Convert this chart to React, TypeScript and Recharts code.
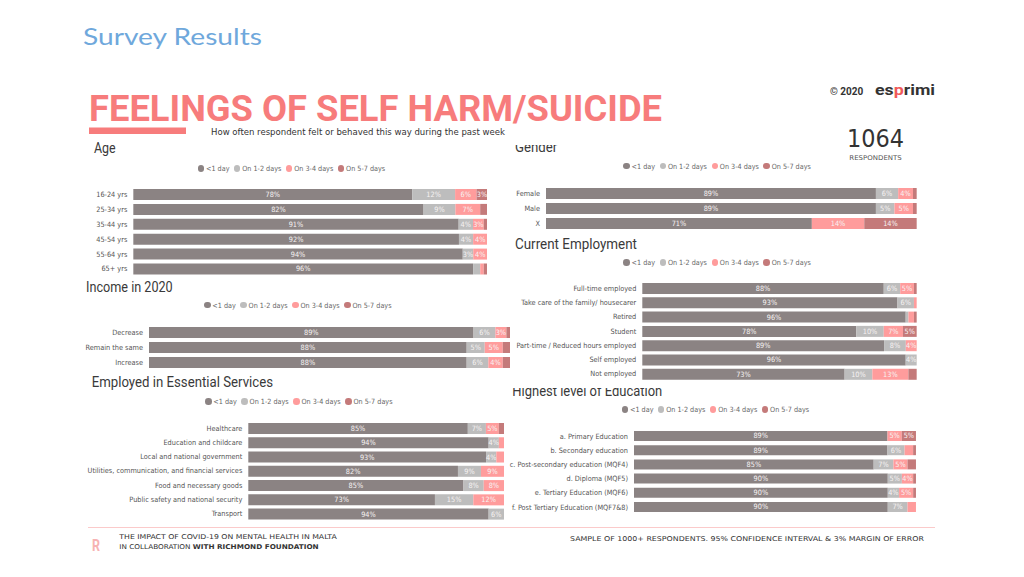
import { BarChart, Bar, XAxis, YAxis, LabelList } from "recharts";

// series shared by every panel
const SERIES = ["<1 day", "On 1-2 days", "On 3-4 days", "On 5-7 days"];
const KEYS = ["d1", "d2", "d3", "d4"];
const COLORS = ["#8b8383", "#bdbdbd", "#ff9c9c", "#c47a7a"];

const COND = '"DejaVu Sans Condensed", "Liberation Sans Narrow", "DejaVu Sans", sans-serif';
const HEAD = 'Roboto, "Open Sans", sans-serif';

// Age
const ageCats = ["16-24 yrs", "25-34 yrs", "35-44 yrs", "45-54 yrs", "55-64 yrs", "65+ yrs"];
const ageLess1 = [78, 82, 91, 92, 94, 96];
const age12 = [12, 9, 4, 4, 3, 2];
const age34 = [6, 7, 3, 4, 4, 1];
const age57 = [3, 2, 1, 0, 0, 1];

// Income in 2020
const incomeCats = ["Decrease", "Remain the same", "Increase"];
const incomeLess1 = [89, 88, 88];
const income12 = [6, 5, 6];
const income34 = [3, 5, 4];
const income57 = [1, 2, 2];

// Employed in Essential Services
const essCats = [
  "Healthcare",
  "Education and childcare",
  "Local and national government",
  "Utilities, communication, and financial services",
  "Food and necessary goods",
  "Public safety and national security",
  "Transport",
];
const essLess1 = [85, 94, 93, 82, 85, 73, 94];
const ess12 = [7, 4, 4, 9, 8, 15, 6];
const ess34 = [5, 2, 3, 9, 8, 12, 0];
const ess57 = [2, 0, 0, 0, 0, 0, 0];

// Gender
const genderCats = ["Female", "Male", "X"];
const genderLess1 = [89, 89, 71];
const gender12 = [6, 5, 0];
const gender34 = [4, 5, 14];
const gender57 = [1, 1, 14];

// Current Employment
const empCats = [
  "Full-time employed",
  "Take care of the family/ housecarer",
  "Retired",
  "Student",
  "Part-time / Reduced hours employed",
  "Self employed",
  "Not employed",
];
const empLess1 = [88, 93, 96, 78, 89, 96, 73];
const emp12 = [6, 6, 1, 10, 8, 4, 10];
const emp34 = [5, 1, 2, 7, 4, 0, 13];
const emp57 = [1, 0, 1, 5, 0, 0, 3];

// Highest level of Education
const eduCats = [
  "a. Primary Education",
  "b. Secondary education",
  "c. Post-secondary education (MQF4)",
  "d. Diploma (MQF5)",
  "e. Tertiary Education (MQF6)",
  "f. Post Tertiary Education (MQF7&8)",
];
const eduLess1 = [89, 89, 85, 90, 90, 90];
const edu12 = [0, 6, 7, 5, 4, 7];
const edu34 = [5, 3, 5, 4, 5, 3];
const edu57 = [5, 1, 3, 1, 1, 0];

const rows = (cats: string[], a: number[], b: number[], c: number[], d: number[]) =>
  cats.map((cat, i) => ({ cat, d1: a[i], d2: b[i], d3: c[i], d4: d[i] }));

const renderValue = (p: any) => {
  const x = Number(p.x), y = Number(p.y), w = Number(p.width), h = Number(p.height);
  const v = Number(p.value);
  if (!v || w < 10) return null;
  return (
    <text
      x={x + w / 2}
      y={y + h / 2}
      textAnchor="middle"
      dominantBaseline="central"
      fill="#f7f3f3"
      fontSize={7.3}
      fontFamily={COND}
    >
      {v}%
    </text>
  );
};

// plain tick so long category names stay on one line
const CatTick = (p: any) => (
  <text x={p.x} y={p.y} textAnchor="end" dominantBaseline="central" fontSize={7.3} fill="#555" fontFamily={COND}>
    {p.payload?.value}
  </text>
);

function Panel({ data, left, top, width, height, axisWidth, barSize = 11 }: any) {
  return (
    <div style={{ position: "absolute", left, top, width, height }}>
      <BarChart
        width={width}
        height={height}
        data={data}
        layout="vertical"
        stackOffset="expand"
        margin={{ top: 0, right: 0, bottom: 0, left: 0 }}
      >
        <XAxis type="number" hide domain={[0, 1]} />
        <YAxis
          type="category"
          dataKey="cat"
          width={axisWidth}
          axisLine={false}
          tickLine={false}
          tickSize={0}
          tickMargin={6}
          interval={0}
          tick={<CatTick />}
        />
        {KEYS.map((k, i) => (
          <Bar key={k} dataKey={k} name={SERIES[i]} stackId="s" fill={COLORS[i]} barSize={barSize} isAnimationActive={false}>
            <LabelList dataKey={k} content={renderValue} />
          </Bar>
        ))}
      </BarChart>
    </div>
  );
}

function Legend({ left, cy }: { left: number; cy: number }) {
  return (
    <div style={{ position: "absolute", left, top: cy - 6, height: 12, display: "flex", alignItems: "center", whiteSpace: "nowrap" }}>
      {SERIES.map((s, i) => (
        <div key={s} style={{ display: "flex", alignItems: "center", marginRight: 4.5 }}>
          <span style={{ width: 6.5, height: 6.5, borderRadius: "50%", background: COLORS[i], marginRight: 1.8 }} />
          <span style={{ fontSize: 7.2, color: "#666", fontFamily: COND }}>{s}</span>
        </div>
      ))}
    </div>
  );
}

const Title = ({ x, y, w, children }: any) => (
  <text x={x} y={y} fontSize={14} fill="#3a3a3a" fontFamily={HEAD} textLength={w} lengthAdjust="spacingAndGlyphs">
    {children}
  </text>
);

export default function App() {
  return (
    <div style={{ position: "absolute", left: 0, top: 0, width: 1024, height: 577, background: "#fff", overflow: "hidden" }}>
      <svg width={1024} height={577} style={{ position: "absolute", left: 0, top: 0 }}>
        <defs>
          <clipPath id="cg">
            <rect x={505} y={145} width={120} height={20} />
          </clipPath>
          <clipPath id="ce">
            <rect x={505} y={388} width={200} height={20} />
          </clipPath>
        </defs>
        <text x={83} y={45} fontSize={23} fill="#6fa8dc" fontFamily='Lato, "Open Sans", sans-serif' textLength={179} lengthAdjust="spacingAndGlyphs">
          Survey Results
        </text>
        <text x={89} y={121} fontSize={36} fontWeight={700} fill="#f77c7c" fontFamily={HEAD} textLength={573} lengthAdjust="spacingAndGlyphs">
          FEELINGS OF SELF HARM/SUICIDE
        </text>
        <rect x={89} y={127.5} width={97} height={6.5} fill="#f77c7c" />
        <text x={211} y={135} fontSize={8} fill="#333" fontFamily={COND} textLength={294} lengthAdjust="spacingAndGlyphs">
          How often respondent felt or behaved this way during the past week
        </text>

        <text x={830} y={95.3} fontSize={10} fontWeight={700} fill="#333" fontFamily={HEAD}>
          © 2020
        </text>
        <text x={875} y={95.3} fontSize={14} fontWeight={700} fill="#333" fontFamily={HEAD} textLength={60} lengthAdjust="spacingAndGlyphs">
          es<tspan fill="#f05a5a">p</tspan>rimi
        </text>
        <text x={847} y={147.3} fontSize={25} fill="#333" fontFamily={COND} textLength={57} lengthAdjust="spacingAndGlyphs">
          1064
        </text>
        <text x={849.3} y={160} fontSize={6.5} fill="#555" fontFamily={COND} textLength={52.5} lengthAdjust="spacingAndGlyphs">
          RESPONDENTS
        </text>

        <Title x={94} y={153.3} w={21.7}>Age</Title>
        <Title x={86} y={291.7} w={86.7}>Income in 2020</Title>
        <Title x={91.7} y={387.3} w={181.3}>Employed in Essential Services</Title>
        <g clipPath="url(#cg)">
          <Title x={515} y={152} w={42.3}>Gender</Title>
        </g>
        <Title x={515} y={249.3} w={122}>Current Employment</Title>
        <g clipPath="url(#ce)">
          <Title x={512.3} y={395.7} w={150}>Highest level of Education</Title>
        </g>

        <line x1={88} y1={527.5} x2={935} y2={527.5} stroke="#fbcaca" strokeWidth={1} />
        <text x={92} y={551} fontSize={16} fontWeight={700} fill="#f7b3b3" fontFamily={HEAD} textLength={8} lengthAdjust="spacingAndGlyphs">
          R
        </text>
        <text x={119.3} y={539.3} fontSize={6.6} fill="#333" fontFamily={COND} textLength={217.4} lengthAdjust="spacingAndGlyphs">
          THE IMPACT OF COVID-19 ON MENTAL HEALTH IN MALTA
        </text>
        <text x={119.3} y={548.7} fontSize={6.6} fill="#333" fontFamily={COND} textLength={199.4} lengthAdjust="spacingAndGlyphs">
          IN COLLABORATION <tspan fontWeight={700}>WITH RICHMOND FOUNDATION</tspan>
        </text>
        <text x={570} y={541} fontSize={6.6} fill="#333" fontFamily={COND} textLength={354} lengthAdjust="spacingAndGlyphs">
          SAMPLE OF 1000+ RESPONDENTS. 95% CONFIDENCE INTERVAL &amp; 3% MARGIN OF ERROR
        </text>
      </svg>

      <Legend left={197.7} cy={168.3} />
      <Legend left={204} cy={305} />
      <Legend left={205} cy={401.7} />
      <Legend left={623.3} cy={166} />
      <Legend left={623.3} cy={262.7} />
      <Legend left={621.7} cy={409.3} />

      <Panel data={rows(ageCats, ageLess1, age12, age34, age57)} left={60} top={187.3} width={427.3} height={89.4} axisWidth={73.3} />
      <Panel data={rows(incomeCats, incomeLess1, income12, income34, income57)} left={60} top={324.7} width={450} height={45} axisWidth={89} />
      <Panel data={rows(essCats, essLess1, ess12, ess34, ess57)} left={60} top={420.9} width={444} height={99.9} axisWidth={188.3} />
      <Panel data={rows(genderCats, genderLess1, gender12, gender34, gender57)} left={505} top={185.7} width={411.7} height={45} axisWidth={41} />
      <Panel data={rows(empCats, empLess1, emp12, emp34, emp57)} left={510} top={281.4} width={406.7} height={100.1} axisWidth={132.3} />
      <Panel data={rows(eduCats, eduLess1, edu12, edu34, edu57)} left={505} top={429} width={411} height={85.2} axisWidth={129} barSize={10} />
    </div>
  );
}
